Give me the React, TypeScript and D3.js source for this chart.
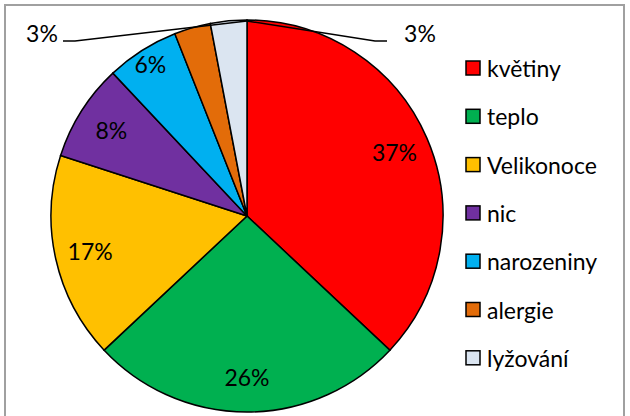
import React from "react";
import * as d3 from "d3";

const categories = ["květiny", "teplo", "Velikonoce", "nic", "narozeniny", "alergie", "lyžování"];
const values = [37, 26, 17, 8, 6, 3, 3];
const colors = ["#ff0000", "#00b050", "#ffc000", "#7030a0", "#00b0f0", "#e36c09", "#dbe5f1"];
const title = "Na co se nejvíc těšíte na jaře?";

const W = 630,
  H = 416,
  cx = 247,
  cy = 216,
  r = 196;

const font = "Lato, 'Open Sans', sans-serif";

export default function App() {
  const data = categories.map((c, i) => ({ name: c, value: values[i], color: colors[i] }));
  const total = d3.sum(values);

  const pie = d3.pie<any>().sort(null).value(d => d.value);
  const arcs = pie(data);
  const arc = d3.arc<any>().innerRadius(0).outerRadius(r);

  const pos = (angle: number, rad: number) => [Math.sin(angle) * rad, -Math.cos(angle) * rad];

  // outside labels for the two little slices at the top
  const outside = arcs.filter(a => a.data.value / total < 0.05);
  const top = pos(0, r);

  const labels = arcs.map((a, i) => {
    const share = a.data.value / total;
    const txt = Math.round(share * 100) + "%";
    if (share < 0.05) {
      const k = outside.indexOf(a);
      const left = k === 0;
      const lx = left ? 42 - cx : 420 - cx;
      const ly = 33 - cy;
      const hx0 = left ? lx + 21 : lx - 33;
      const hx1 = left ? hx0 + 12 : hx0 - 12;
      return (
        <g key={i}>
          <polyline
            points={`${hx0},${ly + 8} ${hx1},${ly + 8} ${top[0]},${top[1] + 1}`}
            fill="none"
            stroke="#000"
            strokeWidth={1.5}
          />
          <text x={lx} y={ly} textAnchor="middle" dominantBaseline="central" fontSize={23}>
            {txt}
          </text>
        </g>
      );
    }
    const mid = (a.startAngle + a.endAngle) / 2;
    const [x, y] = pos(mid, r * (share < 0.07 ? 0.92 : 0.82));
    return (
      <text key={i} x={x} y={y} textAnchor="middle" dominantBaseline="central" fontSize={23}>
        {txt}
      </text>
    );
  });

  const legend = data.map((d, i) => (
    <g key={i} transform={`translate(466,${68 + i * 48.3})`}>
      <rect x={0} y={-7} width={14} height={14} fill={d.color} stroke="#000" strokeWidth={1.5} />
      <text x={21} y={0} dominantBaseline="central" fontSize={23}>
        {d.name}
      </text>
    </g>
  ));

  return (
    <div style={{ position: "absolute", left: 0, top: 0 }}>
      <svg width={W} height={H} style={{ display: "block", fontFamily: font }}>
        <rect x={0} y={0} width={W} height={H} fill="#fff" />
        <text x={W / 2 - 20} y={-4} textAnchor="middle" fontSize={24} fontWeight="bold">
          {title}
        </text>
        <rect x={5} y={5} width={619} height={430} fill="#fff" stroke="#a0a0a0" strokeWidth={2} />
        <g transform={`translate(${cx},${cy})`}>
          {arcs.map((a, i) => (
            <path key={i} d={arc(a) as string} fill={a.data.color} stroke="#000" strokeWidth={1.5} />
          ))}
          {labels}
        </g>
        {legend}
      </svg>
    </div>
  );
}
